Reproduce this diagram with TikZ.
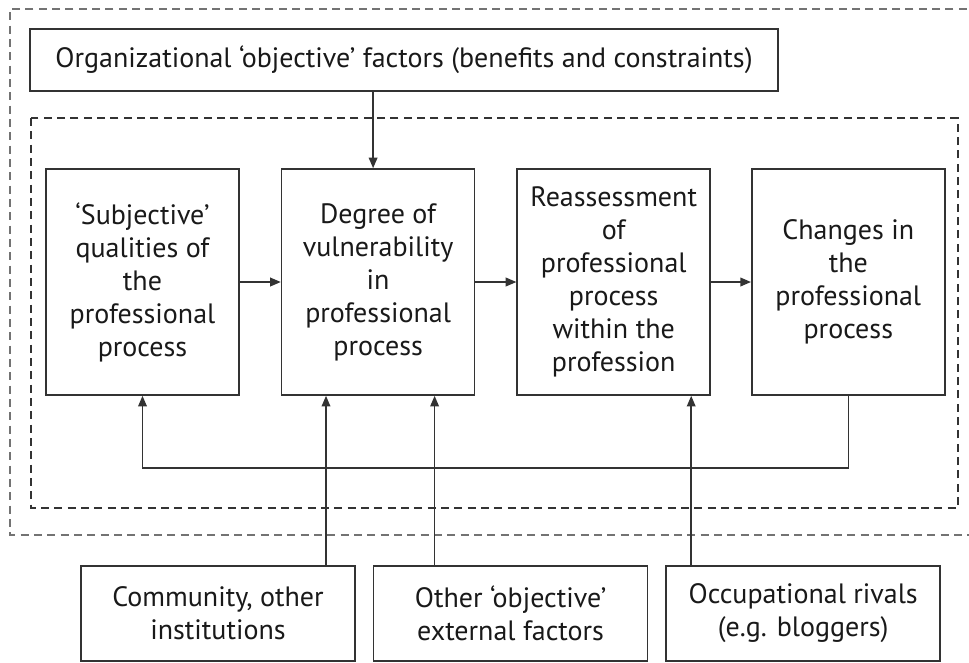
\documentclass[tikz,border=0pt]{standalone}
\usepackage{fontspec}
\setmainfont{PT Sans}
\usetikzlibrary{positioning,arrows.meta}

\begin{document}
\begin{tikzpicture}[
    x=0.75pt, y=-0.75pt,
    every node/.style={font=\fontsize{21}{24.75}\selectfont, text=black!90},
    pblk/.style={rectangle, draw=black!80, line width=1.2pt, inner sep=0pt,
                 minimum width=144.75pt, minimum height=169.5pt, align=center},
    fblk/.style={rectangle, draw=black!80, line width=1.2pt, inner sep=0pt,
                 minimum width=205.5pt, minimum height=71.25pt, align=center},
    arr/.style={-{Triangle[length=8pt, width=6.5pt]}, line width=1.2pt, black!80},
    zone/.style={dash pattern=on 6pt off 4pt, line width=1.2pt},
]
    \useasboundingbox (0,0) rectangle (969,662);
    %% dashed frames
    \draw[zone, black!55] (980,9) -| (10,535) -- (980,535);
    \draw[zone, black!80] (31,118) rectangle (958,508);
    %% top factor box
    \node[rectangle, draw=black!80, line width=1.2pt, minimum width=561pt,
          minimum height=46.5pt] (org) at (404,60)
        {Organizational `objective' factors (benefits and constraints)};
    %% main chain
    \node[pblk] (subj) at (142.5,282)
        {`Subjective'\\qualities of\\the\\professional\\process};
    \node[pblk, right=30.75pt of subj] (vuln)
        {Degree of\\vulnerability\\in\\professional\\process};
    \node[pblk, right=30.75pt of vuln] (reas)
        {Reassessment\\of\\professional\\process\\within the\\profession};
    \node[pblk, right=30pt of reas] (chng)
        {Changes in\\the\\professional\\process};
    \draw[arr] (subj) -- (vuln);
    \draw[arr] (vuln) -- (reas);
    \draw[arr] (reas) -- (chng);
    \draw[arr] ([xshift=-3.75pt]vuln.north |- org.south) -- ([xshift=-3.75pt]vuln.north);
    %% feedback loop
    \draw[arr] (chng.south) -- ++(0,72) -| (subj.south);
    %% outside factors
    \node[fblk] (comm) at (218,613.5) {Community, other\\institutions};
    \node[fblk, right=12.75pt of comm] (othr) {Other `objective'\\external factors};
    \node[fblk, right=12.75pt of othr] (rivl) {Occupational rivals\\(e.g. bloggers)};
    \draw[arr] ([xshift=81pt]comm.north) -- ([xshift=81pt]comm.north |- vuln.south);
    \draw[arr] ([xshift=-57pt]othr.north) -- ([xshift=-57pt]othr.north |- vuln.south);
    \draw[arr] ([xshift=-84pt]rivl.north) -- ([xshift=-84pt]rivl.north |- reas.south);
\end{tikzpicture}
\end{document}
